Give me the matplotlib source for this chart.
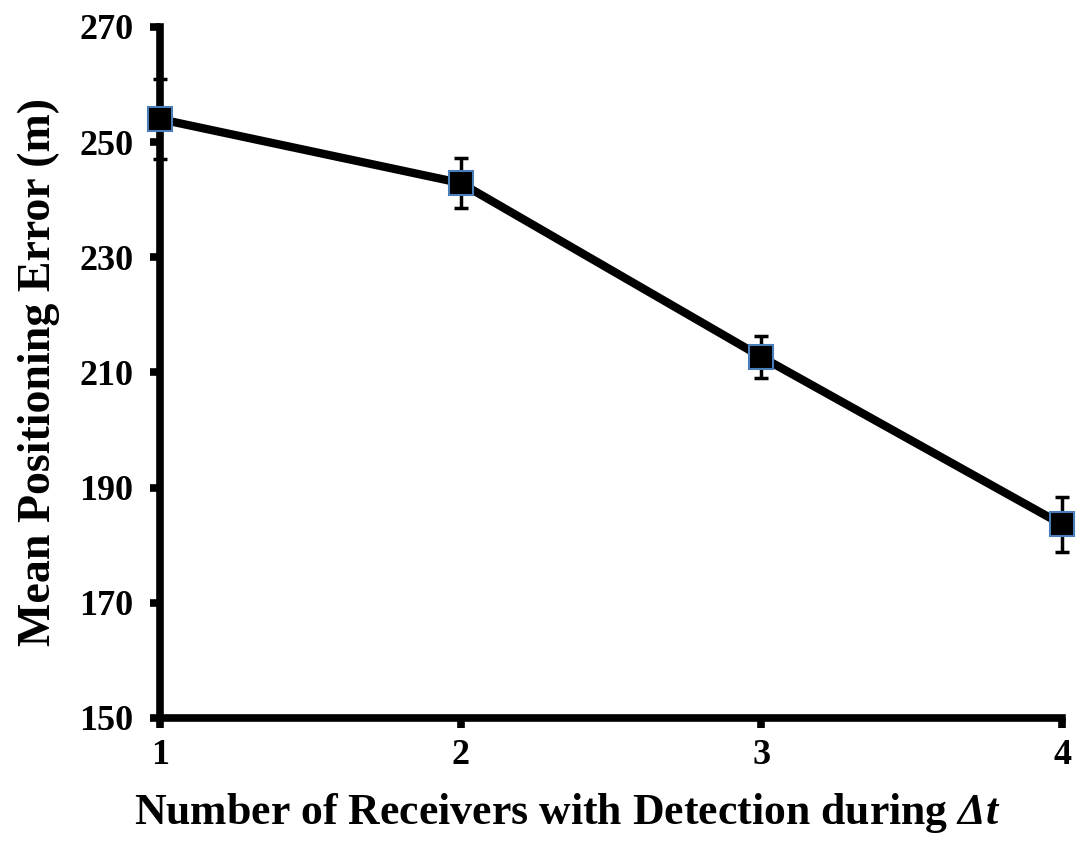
import matplotlib
matplotlib.use('Agg')
import matplotlib.pyplot as plt

receivers = [1, 2, 3, 4]
mean_error = [254.0, 242.9, 212.7, 183.6]
error_bar = [7.0, 4.3, 3.6, 4.8]
y_ticks = [150, 170, 190, 210, 230, 250, 270]

plt.rcParams['font.family'] = 'Liberation Serif'
plt.rcParams['font.weight'] = 'bold'
plt.rcParams['axes.labelweight'] = 'bold'
plt.rcParams['mathtext.fontset'] = 'custom'
plt.rcParams['mathtext.it'] = 'Liberation Serif:italic:bold'
plt.rcParams['mathtext.bf'] = 'Liberation Serif:italic:bold'
plt.rcParams['mathtext.rm'] = 'Liberation Serif:bold'

figure = plt.figure(figsize=(10.76, 8.65), dpi=100)
axes = figure.add_axes([0.1487, 0.170, 0.8383, 0.7988])

axes.errorbar(receivers, mean_error, yerr=error_bar, fmt='none', ecolor='black',
              elinewidth=2.5, capsize=5, capthick=2.5, clip_on=False, zorder=2)
axes.plot(receivers, mean_error, color='black', linewidth=6, marker='s', markersize=17,
          markerfacecolor='black', markeredgecolor='#4a7ebb', markeredgewidth=1.5,
          clip_on=False, zorder=3)

axes.set_xlim(1, 4)
axes.set_ylim(150, 270)
axes.set_xticks(receivers)
axes.set_yticks(y_ticks)

for side in ['top', 'right']:
    axes.spines[side].set_visible(False)
for side in ['left', 'bottom']:
    axes.spines[side].set_linewidth(5.5)

axes.tick_params(axis='both', direction='out', width=5.5, length=7, labelsize=26)
axes.tick_params(axis='x', pad=8)
axes.tick_params(axis='y', pad=12)

axes.set_xlabel(r'Number of Receivers with Detection during $\mathbf{Δt}$', fontsize=31.5)
axes.xaxis.set_label_coords(0.451, -0.105)
axes.set_ylabel('Mean Positioning Error (m)', fontsize=33, labelpad=14)

figure.savefig('out.png', dpi=100)
